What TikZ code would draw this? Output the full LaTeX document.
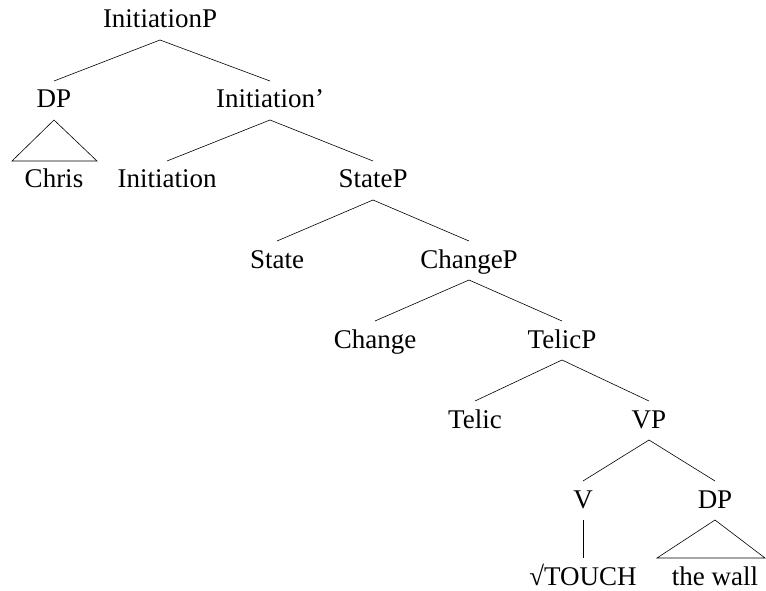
\documentclass[tikz,border=0pt]{standalone}
\usepackage{fontspec}
\setmainfont{Liberation Serif}
\usetikzlibrary{calc}
\tikzset{
	cat/.style={anchor=base, font=\fontsize{27}{32}\selectfont, text height=20pt, text depth=5pt, inner sep=3pt, outer sep=4pt},
	leaf/.style={cat, text depth=1pt, inner sep=1pt, outer sep=6pt},
	branch/.style={line width=0.6pt}
}

\begin{document}
\begin{tikzpicture}[x=1pt, y=-1pt]
			%%%%% START %%%%%
			
			\useasboundingbox (0, 0) rectangle (766, 591);
			
			\node[cat] (initP) at (160, 28) {InitiationP};
			
			\node[cat] (subj) at (54, 108) {DP};
			\node[cat] (initbar) at (270, 108) {Initiation'};
			
			\node[cat] (chris) at (54, 188) {Chris};
			\node[cat] (init) at (167, 188) {Initiation};
			\node[cat] (stateP) at (373, 188) {StateP};
			
			\node[cat] (state) at (277, 268) {State};
			\node[cat] (changeP) at (469, 268) {ChangeP};
			
			\node[cat] (change) at (375, 348) {Change};
			\node[cat] (telicP) at (562, 348) {TelicP};
			
			\node[cat] (telic) at (475, 428) {Telic};
			\node[cat] (vP) at (649, 428) {VP};
			
			\node[cat] (verb) at (583, 508) {V};
			\node[cat] (obj) at (715, 508) {DP};
			
			\node[leaf] (root) at (583, 585) {\symbol{"221A}TOUCH};
			\node[leaf] (wall) at (715, 585) {the wall};
			
			\draw[branch] (initP.south) -- (subj.north);
			\draw[branch] (initP.south) -- (initbar.north);
			
			\draw[branch] (subj.south) -- ($(chris.north)+(-42, 0)$) -- ($(chris.north)+(43, 0)$) -- cycle;
			
			\draw[branch] (initbar.south) -- (init.north);
			\draw[branch] (initbar.south) -- (stateP.north);
			
			\draw[branch] (stateP.south) -- (state.north);
			\draw[branch] (stateP.south) -- (changeP.north);
			
			\draw[branch] (changeP.south) -- (change.north);
			\draw[branch] (changeP.south) -- (telicP.north);
			
			\draw[branch] (telicP.south) -- (telic.north);
			\draw[branch] (telicP.south) -- (vP.north);
			
			\draw[branch] (vP.south) -- (verb.north);
			\draw[branch] (vP.south) -- (obj.north);
			
			\draw[branch] (verb.south) -- (root.north);
			\draw[branch] (obj.south) -- ($(wall.north)+(-58, 0)$) -- ($(wall.north)+(50, 0)$) -- cycle;
			
			%%%%% END %%%%%
\end{tikzpicture}
\end{document}
